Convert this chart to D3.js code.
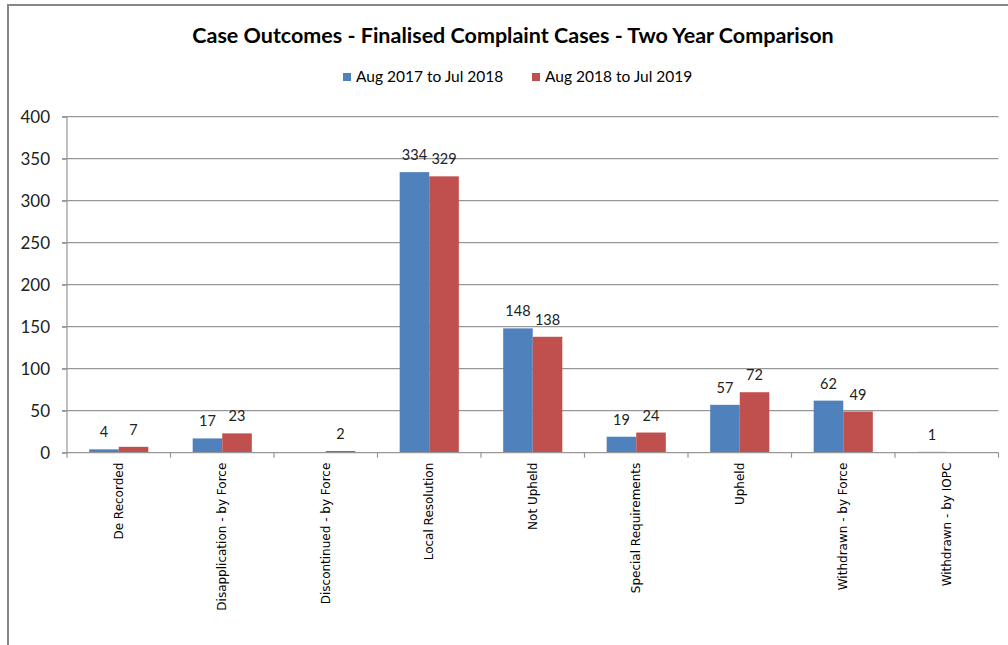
<!DOCTYPE html>
<html><head><meta charset="utf-8">
<script src="https://cdn.jsdelivr.net/npm/d3@7"></script>
<style>html,body{margin:0;padding:0;background:#fff;overflow:hidden}</style>
</head><body><svg id="c" width="1008" height="645"></svg>
<script>
const categories = ["De Recorded","Disapplication - by Force","Discontinued - by Force","Local Resolution","Not Upheld","Special Requirements","Upheld","Withdrawn - by Force","Withdrawn - by IOPC"];
const seriesNames = ["Aug 2017 to Jul 2018","Aug 2018 to Jul 2019"];
const values2017 = [4,17,null,334,148,19,57,62,1];
const values2018 = [7,23,2,329,138,24,72,49,null];
const yTicks = [0,50,100,150,200,250,300,350,400];
const colors = ["#4F81BD","#C0504D"];
const title = "Case Outcomes - Finalised Complaint Cases - Two Year Comparison";

const svg = d3.select("#c");
// chart border
svg.append("rect").attr("x",8).attr("y",5).attr("width",1100).attr("height",700)
  .attr("fill","#fff").attr("stroke","#878787").attr("stroke-width",2);

const x0 = d3.scaleBand().domain(categories).range([67,998.5]).padding(0);
const x1 = d3.scaleBand().domain(seriesNames).range([0,x0.bandwidth()]).paddingInner(0).paddingOuter(0.75);
const y = d3.scaleLinear().domain([0,400]).range([452.7,116.7]);

// gridlines
svg.append("g").selectAll("line").data(yTicks.filter(d=>d>0)).join("line")
  .attr("x1",62).attr("x2",998.5).attr("y1",d=>y(d)).attr("y2",d=>y(d))
  .attr("stroke","#979797").attr("stroke-width",1.2);

// y axis
const yAxis = svg.append("g").attr("transform","translate(67,0)")
  .call(d3.axisLeft(y).tickValues(yTicks).tickSize(5).tickPadding(12));
yAxis.select(".domain").attr("stroke","#979797").attr("stroke-width",1.2).attr("d","M-5,"+y(0)+"H0V"+y(400)+"H-5");
yAxis.selectAll(".tick line").attr("stroke","#979797").attr("stroke-width",1.2);
yAxis.selectAll("text").attr("font-family","Lato, sans-serif").attr("font-size","17px").attr("fill","#222");

// bars
const data = categories.map((c,i)=>({c, vals:[values2017[i],values2018[i]]}));
const g = svg.append("g");
const cat = g.selectAll("g").data(data).join("g").attr("transform",d=>`translate(${x0(d.c)},0)`);
cat.selectAll("rect").data(d=>d.vals.map((v,k)=>({v,k}))).join("rect")
  .attr("x",d=>x1(seriesNames[d.k])).attr("width",x1.bandwidth())
  .attr("y",d=>y(d.v||0)).attr("height",d=>y(0)-y(d.v||0))
  .attr("fill",d=>colors[d.k]);
cat.selectAll("text").data(d=>d.vals.map((v,k)=>({v,k})).filter(e=>e.v!=null)).join("text")
  .attr("x",d=>x1(seriesNames[d.k])+x1.bandwidth()/2).attr("y",d=>y(d.v)-12)
  .attr("text-anchor","middle").attr("font-family","Lato, sans-serif").attr("font-size","14.5px").attr("fill","#222")
  .text(d=>d.v);

// x axis
const xAxis = svg.append("g").attr("transform",`translate(0,${y(0)})`)
  .call(d3.axisBottom(x0).tickSize(0).tickPadding(0));
xAxis.select(".domain").attr("stroke","#979797").attr("stroke-width",1.2).attr("d","M67,0H998.5");
// boundary ticks
svg.append("g").selectAll("line").data(d3.range(categories.length+1)).join("line")
  .attr("x1",i=>67+i*x0.step()).attr("x2",i=>67+i*x0.step())
  .attr("y1",y(0)).attr("y2",y(0)+5).attr("stroke","#979797").attr("stroke-width",1.2);
xAxis.selectAll(".tick text")
  .attr("transform","translate(0,10) rotate(-90)")
  .attr("text-anchor","end").attr("dy","0.35em").attr("x",0).attr("y",0)
  .style("font-family","'DejaVu Sans', sans-serif").style("font-size","12px").attr("fill","#000");

// title
svg.append("text").attr("x",513).attr("y",43).attr("text-anchor","middle")
  .attr("font-family","Lato, sans-serif").attr("font-weight","bold").attr("font-size","21.5px").attr("fill","#000")
  .text(title);

// legend
const legX = [343,532];
const leg = svg.append("g").selectAll("g").data(seriesNames).join("g")
  .attr("transform",(d,i)=>`translate(${legX[i]},0)`);
leg.append("rect").attr("x",0).attr("y",73).attr("width",8).attr("height",8).attr("fill",(d,i)=>colors[i]);
leg.append("text").attr("x",13).attr("y",82).attr("font-family","Lato, sans-serif").attr("font-size","15.5px").attr("fill","#000").text(d=>d);
</script></body></html>
